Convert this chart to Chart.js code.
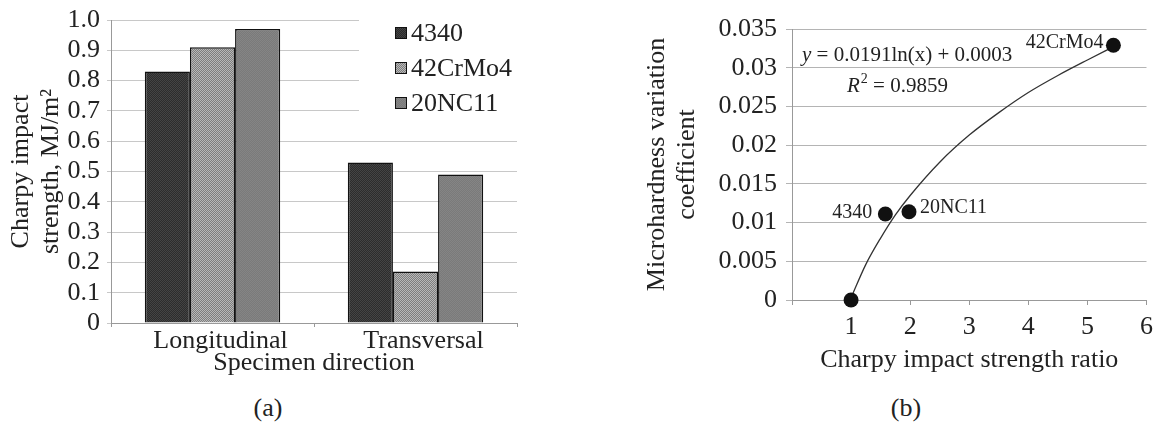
<!DOCTYPE html>
<html><head><meta charset="utf-8">
<script src="https://cdn.jsdelivr.net/npm/chart.js@4.4.1/dist/chart.umd.min.js"></script>
<style>
html,body{margin:0;padding:0;background:#fff;}
#wrap{position:relative;width:1162px;height:423px;overflow:hidden;font-family:"Liberation Serif",serif;}
#ca{position:absolute;left:0;top:0;}
#cb{position:absolute;left:560px;top:0;}
.cap{position:absolute;top:394px;font-size:26px;line-height:28px;color:#222;transform:translateX(-50%);}
</style></head><body>
<div id="wrap">
<canvas id="ca" width="540" height="392"></canvas>
<canvas id="cb" width="602" height="392"></canvas>
<div class="cap" style="left:268px">(a)</div>
<div class="cap" style="left:906px">(b)</div>
</div>
<script>
// ---- Chart (a) data ----
const categories = ['Longitudinal', 'Transversal'];
const steelNames = ['4340', '42CrMo4', '20NC11'];
const strength4340 = [0.83, 0.53];
const strength42CrMo4 = [0.91, 0.17];
const strength20NC11 = [0.97, 0.49];
const yTickLabelsA = ['0', '0.1', '0.2', '0.3', '0.4', '0.5', '0.6', '0.7', '0.8', '0.9', '1.0'];

// ---- Chart (b) data ----
const pointLabels = ['', '4340', '20NC11', '42CrMo4'];
const ratioX = [1, 1.58, 1.98, 5.44];
const variationY = [0, 0.0111, 0.0114, 0.0329];
const trendX = [1, 1.25, 1.5, 1.75, 2, 2.5, 3, 3.5, 4, 4.5, 5, 5.44];
const trendY = [0.0003, 0.0046, 0.0080, 0.0110, 0.0135, 0.0178, 0.0213, 0.0242, 0.0268, 0.0290, 0.0310, 0.0327];
const yTickLabelsB = ['0', '0.005', '0.01', '0.015', '0.02', '0.025', '0.03', '0.035'];
const xTickLabelsB = ['', '1', '2', '3', '4', '5', '6'];
const equationText = '= 0.0191ln(x) + 0.0003';
const r2Text = ' = 0.9859';

const FONT = '"Liberation Serif", "Times New Roman", serif';
const TXT = '#222';

function makePattern(a, b) {
  const c = document.createElement('canvas');
  c.width = 2; c.height = 2;
  const g = c.getContext('2d');
  g.fillStyle = a; g.fillRect(0, 0, 2, 2);
  g.fillStyle = b; g.fillRect(0, 0, 1, 1); g.fillRect(1, 1, 1, 1);
  return g.createPattern(c, 'repeat');
}
const ctxA = document.getElementById('ca').getContext('2d');
const barFills = [makePattern('#2c2c2c', '#444444'), makePattern('#7d7d7d', '#b8b8b8'), makePattern('#7a7a7a', '#858585')];

const legendPlugin = {
  id: 'boxLegend',
  beforeDatasetsDraw(chart) {
    const ctx = chart.ctx;
    ctx.save();
    ctx.fillStyle = '#fff';
    ctx.fillRect(359, 20, 170, 98);
    const cys = [33, 68, 103];
    chart.data.datasets.forEach((ds, i) => {
      const cy = cys[i];
      ctx.fillStyle = ds.backgroundColor;
      ctx.fillRect(395, cy - 6, 12, 12);
      ctx.strokeStyle = '#111';
      ctx.lineWidth = 1;
      ctx.strokeRect(395.5, cy - 5.5, 11, 11);
      ctx.fillStyle = TXT;
      ctx.font = '26px ' + FONT;
      ctx.textBaseline = 'middle';
      ctx.textAlign = 'left';
      ctx.fillText(ds.label, 411, cy + 1);
    });
    ctx.restore();
  }
};

new Chart(ctxA, {
  type: 'bar',
  data: {
    labels: categories,
    datasets: [
      { label: steelNames[0], data: strength4340, backgroundColor: barFills[0] },
      { label: steelNames[1], data: strength42CrMo4, backgroundColor: barFills[1] },
      { label: steelNames[2], data: strength20NC11, backgroundColor: barFills[2] }
    ].map(d => Object.assign(d, { borderColor: '#111', borderWidth: 1.5, categoryPercentage: 0.667, barPercentage: 1.0 }))
  },
  options: {
    responsive: false,
    animation: false,
    layout: { padding: { top: 13, right: 23, left: 0, bottom: 0 } },
    plugins: { legend: { display: false }, tooltip: { enabled: false } },
    scales: {
      x: {
        offset: true,
        grid: { display: true, drawOnChartArea: false, tickLength: 4, color: '#999', offset: true },
        border: { color: '#999' },
        ticks: { color: TXT, font: { family: FONT, size: 26, lineHeight: 1 }, padding: 1, maxRotation: 0, labelOffset: 8 },
        title: { display: true, text: 'Specimen direction', color: TXT, font: { family: FONT, size: 26, lineHeight: 1.2 }, padding: { top: 0, bottom: 13 } },
        afterFit(s) { s.height = 69; }
      },
      y: {
        min: 0, max: 1,
        ticks: { stepSize: 0.1, color: TXT, font: { family: FONT, size: 26, lineHeight: 1 }, padding: 7,
          callback: (v, i) => yTickLabelsA[i] },
        grid: { color: '#c8c8c8', tickLength: 4 },
        border: { color: '#999' },
        title: { display: true, text: ['Charpy impact', 'strength, MJ/m\u00B2'], color: TXT, font: { family: FONT, size: 26, lineHeight: 1.15 }, padding: { top: 6, bottom: 0 } },
        afterFit(s) { s.width = 111; }
      }
    }
  },
  plugins: [legendPlugin]
});

const annotPlugin = {
  id: 'annot',
  afterDatasetsDraw(chart) {
    const ctx = chart.ctx;
    const ca = chart.chartArea;
    ctx.save();
    ctx.fillStyle = TXT;
    ctx.textBaseline = 'middle';
    // point labels
    const meta = chart.getDatasetMeta(1);
    const place = { '4340': ['right', -13, -1], '20NC11': ['left', 11, -4], '42CrMo4': ['right', -10, -3] };
    ctx.font = '20px ' + FONT;
    meta.data.forEach((pt, i) => {
      const lab = pointLabels[i];
      if (!lab) return;
      const p = place[lab];
      ctx.textAlign = p[0];
      ctx.fillText(lab, pt.x + p[1], pt.y + p[2]);
    });
    // equation
    ctx.textAlign = 'left';
    let x = ca.left + 10, y = ca.top + 26;
    ctx.font = 'italic 21px ' + FONT;
    ctx.fillText('y', x, y);
    x += ctx.measureText('y ').width;
    ctx.font = '21px ' + FONT;
    ctx.fillText(equationText, x, y);
    x = ca.left + 55; y = ca.top + 57;
    ctx.font = 'italic 21px ' + FONT;
    ctx.fillText('R', x, y);
    x += ctx.measureText('R').width + 1;
    ctx.font = '14px ' + FONT;
    ctx.fillText('2', x, y - 7);
    x += ctx.measureText('2').width;
    ctx.font = '21px ' + FONT;
    ctx.fillText(r2Text, x, y);
    ctx.restore();
  }
};

new Chart(document.getElementById('cb'), {
  type: 'scatter',
  data: {
    datasets: [
      { type: 'line', label: 'trend', data: trendX.map((x, i) => ({ x: x, y: trendY[i] })),
        borderColor: '#333', borderWidth: 1.3, pointRadius: 0, cubicInterpolationMode: 'monotone', fill: false, order: 2 },
      { type: 'scatter', label: 'steels', data: ratioX.map((x, i) => ({ x: x, y: variationY[i] })),
        pointRadius: 7.5, backgroundColor: '#111', borderColor: '#111', borderWidth: 0, order: 1, clip: false }
    ]
  },
  options: {
    responsive: false,
    animation: false,
    layout: { padding: { top: 29, right: 10, left: 0, bottom: 0 } },
    plugins: { legend: { display: false }, tooltip: { enabled: false } },
    scales: {
      x: {
        type: 'linear', min: 0, max: 6,
        ticks: { stepSize: 1, color: TXT, font: { family: FONT, size: 26, lineHeight: 1 }, padding: 9, maxRotation: 0,
          callback: (v, i) => xTickLabelsB[i] },
        grid: { display: true, drawOnChartArea: false, tickLength: 5, color: '#999' },
        border: { color: '#999' },
        title: { display: true, text: 'Charpy impact strength ratio', color: TXT, font: { family: FONT, size: 26, lineHeight: 1.2 }, padding: { top: 0, bottom: 16 } },
        afterFit(s) { s.height = 92; }
      },
      y: {
        min: 0, max: 0.035,
        ticks: { stepSize: 0.005, color: TXT, font: { family: FONT, size: 26, lineHeight: 1 }, padding: 9,
          callback: (v, i) => yTickLabelsB[i] },
        grid: { color: '#b4b4b4', tickLength: 6 },
        border: { color: '#999' },
        title: { display: true, text: ['Microhardness variation', 'coefficient'], color: TXT, font: { family: FONT, size: 26, lineHeight: 1.15 }, padding: { top: 82, bottom: 0 } },
        afterFit(s) { s.width = 232; }
      }
    }
  },
  plugins: [annotPlugin]
});
</script>
</body></html>
